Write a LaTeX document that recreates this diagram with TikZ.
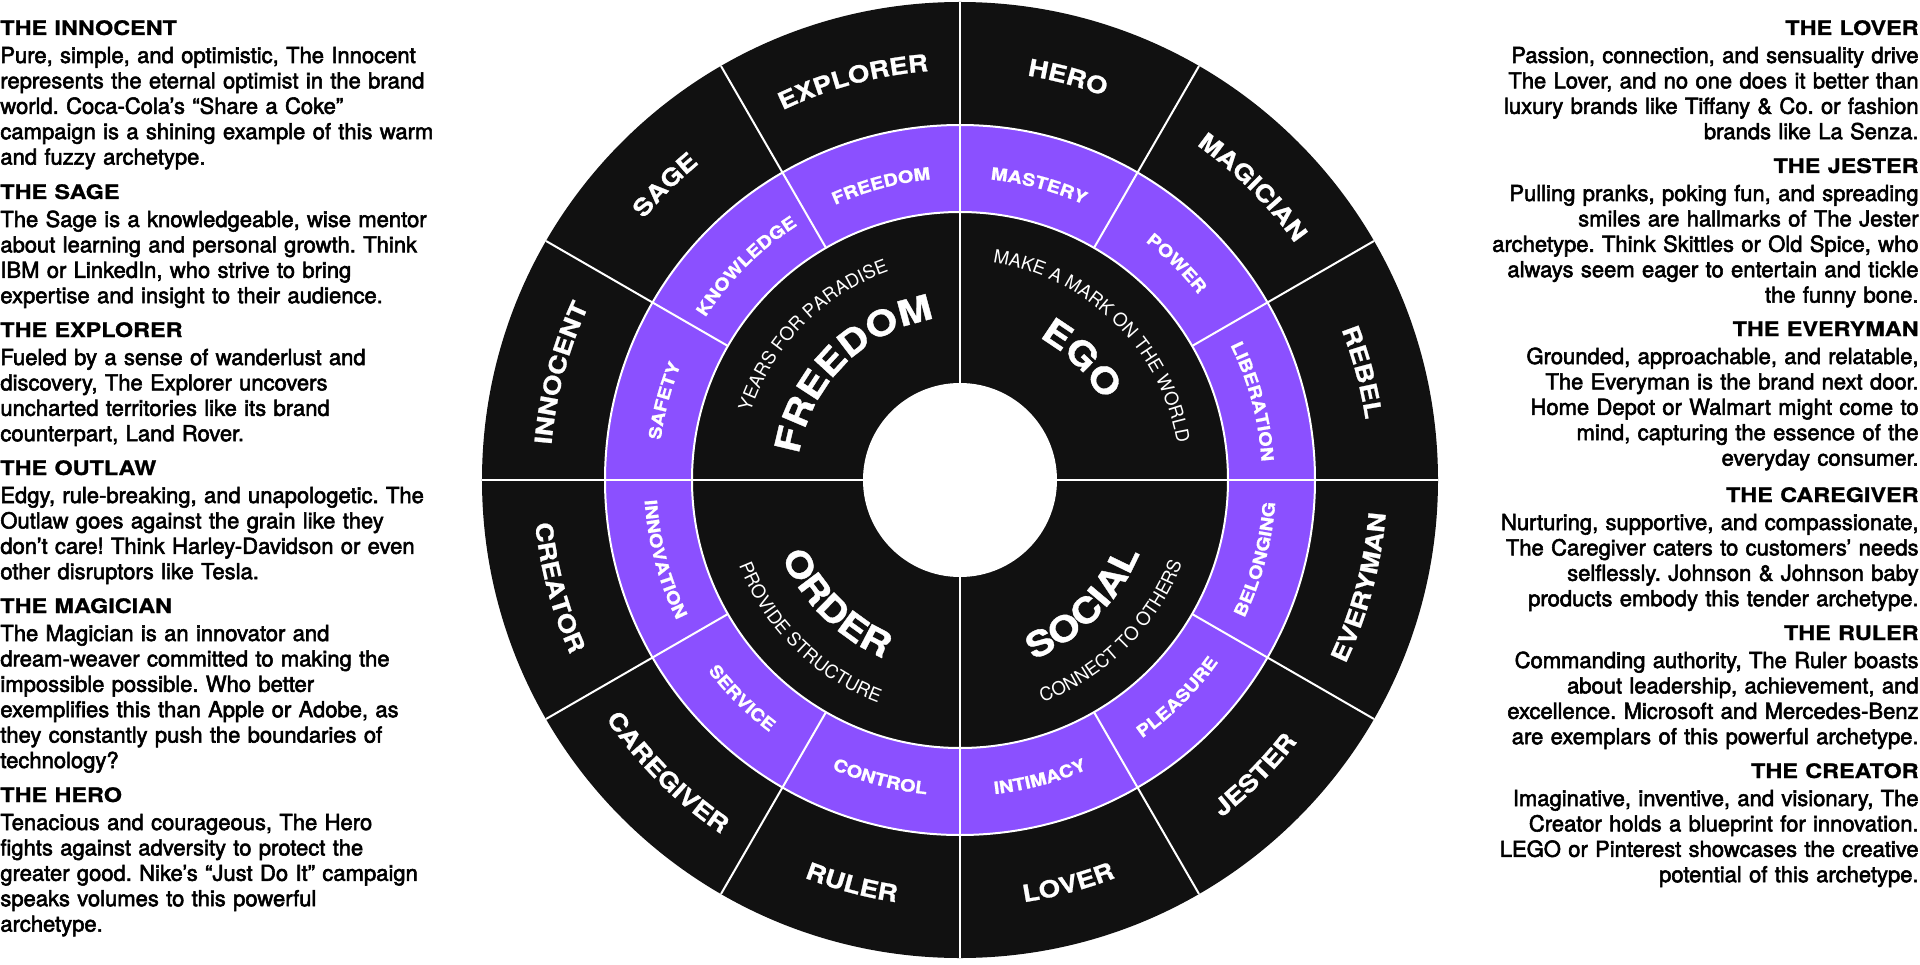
\documentclass[tikz,border=0pt]{standalone}
\usepackage{fontspec}
\setmainfont{TeX Gyre Heros}[FakeBold=2.5]
\newfontfamily\headfont{TeX Gyre Heros}[FakeStretch=1.17,BoldFeatures={FakeBold=1}]
\newfontfamily\thinfont{TeX Gyre Heros}
\usetikzlibrary{decorations.text}

\definecolor{wheelblack}{HTML}{111111}
\definecolor{wheelpurple}{HTML}{8B50FF}

\newcommand\blurbhead{\headfont\bfseries\fontsize{10}{12.7}\selectfont}
\newcommand\outerlbl{\headfont\bfseries\fontsize{11.8}{14}\selectfont}
\newcommand\innerlbl{\headfont\bfseries\fontsize{8.5}{10}\selectfont}
\newcommand\quadlbl{\headfont\bfseries\fontsize{17.5}{20}\selectfont}
\newcommand\sublbl{\thinfont\fontsize{9.2}{11}\selectfont}

% text on an arc: font, radius, middle angle, text
\newcommand\arcup[4]{\path[decorate,decoration={text along path,text align=center,text color=white,text={|#1|#4}}]
  (#3+45:#2) arc[start angle=#3+45,end angle=#3-45,radius=#2];}
\newcommand\arcdown[4]{\path[decorate,decoration={text along path,text align=center,text color=white,text={|#1|#4}}]
  (#3-45:#2) arc[start angle=#3-45,end angle=#3+45,radius=#2];}

\begin{document}
\begin{tikzpicture}[
  x=0.5pt, y=0.5pt,
  sep/.style={white,line width=1pt},
  blurb/.style={inner sep=0pt,text width=235pt,font=\fontsize{11}{12.7}\selectfont\frenchspacing},
  leftblurb/.style={blurb,align=left,anchor=base west},
  rightblurb/.style={blurb,align=right,anchor=base east}
]
\useasboundingbox (-960,-484) rectangle (960,480);

% wheel
\fill[wheelblack] (0,0) circle[radius=478];
\fill[wheelpurple] (0,0) circle[radius=355];
\fill[wheelblack] (0,0) circle[radius=268];
\fill[white] (0,0) circle[radius=97];
\draw[sep] (0,0) circle[radius=355] (0,0) circle[radius=268];
\foreach \a in {30,60,120,150,210,240,300,330}
  \draw[sep] (\a:268) -- (\a:478);
\draw[sep] (0,97) -- (0,478) (0,-97) -- (0,-478) (97,0) -- (478,0) (-97,0) -- (-478,0);

% outer ring
\arcup{\outerlbl}{410}{105}{EXPLORER}
\arcup{\outerlbl}{410}{75}{HERO}
\arcup{\outerlbl}{410}{45}{MAGICIAN}
\arcup{\outerlbl}{410}{15}{REBEL}
\arcup{\outerlbl}{410}{135}{SAGE}
\arcup{\outerlbl}{410}{165}{INNOCENT}
\arcdown{\outerlbl}{427}{195}{CREATOR}
\arcdown{\outerlbl}{427}{225}{CAREGIVER}
\arcdown{\outerlbl}{427}{255}{RULER}
\arcdown{\outerlbl}{427}{285}{LOVER}
\arcdown{\outerlbl}{427}{315}{JESTER}
\arcdown{\outerlbl}{427}{345}{EVERYMAN}

% purple ring
\arcup{\innerlbl}{302}{105}{FREEDOM}
\arcup{\innerlbl}{302}{75}{MASTERY}
\arcup{\innerlbl}{302}{45}{POWER}
\arcup{\innerlbl}{302}{15}{LIBERATION}
\arcup{\innerlbl}{302}{135}{KNOWLEDGE}
\arcup{\innerlbl}{302}{165}{SAFETY}
\arcdown{\innerlbl}{316}{195}{INNOVATION}
\arcdown{\innerlbl}{316}{225}{SERVICE}
\arcdown{\innerlbl}{316}{255}{CONTROL}
\arcdown{\innerlbl}{316}{285}{INTIMACY}
\arcdown{\innerlbl}{316}{315}{PLEASURE}
\arcdown{\innerlbl}{316}{345}{BELONGING}

% quadrants
\arcup{\quadlbl}{163}{135}{FREEDOM}
\arcup{\quadlbl}{163}{45}{EGO}
\arcdown{\quadlbl}{194}{225}{ORDER}
\arcdown{\quadlbl}{194}{315}{SOCIAL}
\arcup{\sublbl}{220}{135.5}{YEARS FOR PARADISE}
\arcup{\sublbl}{220}{45.5}{MAKE A MARK ON THE WORLD}
\arcdown{\sublbl}{237}{225.5}{PROVIDE STRUCTURE}
\arcdown{\sublbl}{237}{315}{CONNECT TO OTHERS}

% left column
\node[leftblurb] (innocent) at (-960,445) {{\blurbhead THE INNOCENT}\\[1.3pt]
Pure, simple, and optimistic, The Innocent\\
represents the eternal optimist in the brand\\
world. Coca-Cola’s “Share a Coke”\\
campaign is a shining example of this warm\\
and fuzzy archetype.};
\node[leftblurb] (sage) at (-960,281) {{\blurbhead THE SAGE}\\[1.3pt]
The Sage is a knowledgeable, wise mentor\\
about learning and personal growth. Think\\
IBM or LinkedIn, who strive to bring\\
expertise and insight to their audience.};
\node[leftblurb] (explorer) at (-960,143) {{\blurbhead THE EXPLORER}\\[1.3pt]
Fueled by a sense of wanderlust and\\
discovery, The Explorer uncovers\\
uncharted territories like its brand\\
counterpart, Land Rover.};
\node[leftblurb] (outlaw) at (-960,5) {{\blurbhead THE OUTLAW}\\[1.3pt]
Edgy, rule-breaking, and unapologetic. The\\
Outlaw goes against the grain like they\\
don’t care! Think Harley-Davidson or even\\
other disruptors like Tesla.};
\node[leftblurb] (magician) at (-960,-133) {{\blurbhead THE MAGICIAN}\\[1.3pt]
The Magician is an innovator and\\
dream-weaver committed to making the\\
impossible possible. Who better\\
exemplifies this than Apple or Adobe, as\\
they constantly push the boundaries of\\
technology?};
\node[leftblurb] (hero) at (-960,-322) {{\blurbhead THE HERO}\\[1.3pt]
Tenacious and courageous, The Hero\\
fights against adversity to protect the\\
greater good. Nike’s “Just Do It” campaign\\
speaks volumes to this powerful\\
archetype.};

% right column
\node[rightblurb] (lover) at (959,445) {{\blurbhead THE LOVER}\\[1.3pt]
Passion, connection, and sensuality drive\\
The Lover, and no one does it better than\\
luxury brands like Tiffany \& Co. or fashion\\
brands like La Senza.};
\node[rightblurb] (jester) at (959,307) {{\blurbhead THE JESTER}\\[1.3pt]
Pulling pranks, poking fun, and spreading\\
smiles are hallmarks of The Jester\\
archetype. Think Skittles or Old Spice, who\\
always seem eager to entertain and tickle\\
the funny bone.};
\node[rightblurb] (everyman) at (959,144) {{\blurbhead THE EVERYMAN}\\[1.3pt]
Grounded, approachable, and relatable,\\
The Everyman is the brand next door.\\
Home Depot or Walmart might come to\\
mind, capturing the essence of the\\
everyday consumer.};
\node[rightblurb] (caregiver) at (959,-22) {{\blurbhead THE CAREGIVER}\\[1.3pt]
Nurturing, supportive, and compassionate,\\
The Caregiver caters to customers’ needs\\
selflessly. Johnson \& Johnson baby\\
products embody this tender archetype.};
\node[rightblurb] (ruler) at (959,-160) {{\blurbhead THE RULER}\\[1.3pt]
Commanding authority, The Ruler boasts\\
about leadership, achievement, and\\
excellence. Microsoft and Mercedes-Benz\\
are exemplars of this powerful archetype.};
\node[rightblurb] (creator) at (959,-298) {{\blurbhead THE CREATOR}\\[1.3pt]
Imaginative, inventive, and visionary, The\\
Creator holds a blueprint for innovation.\\
LEGO or Pinterest showcases the creative\\
potential of this archetype.};
\end{tikzpicture}
\end{document}
